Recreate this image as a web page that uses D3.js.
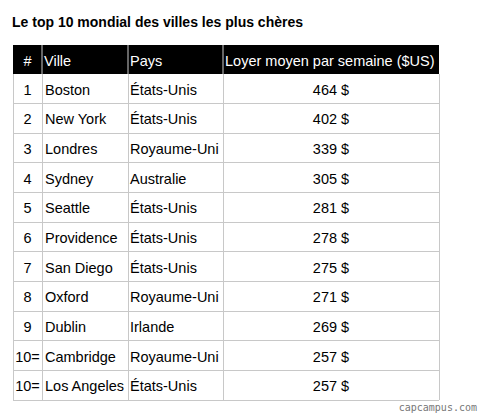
<!DOCTYPE html>
<html><head><meta charset="utf-8">
<script src="https://cdn.jsdelivr.net/npm/d3@7"></script>
<style>body{margin:0;background:#fff;}</style>
</head><body>
<script>
const headers = ['#', 'Ville', 'Pays', 'Loyer moyen par semaine ($US)'];
const ranks = ['1', '2', '3', '4', '5', '6', '7', '8', '9', '10=', '10='];
const cities = ['Boston', 'New York', 'Londres', 'Sydney', 'Seattle', 'Providence', 'San Diego', 'Oxford', 'Dublin', 'Cambridge', 'Los Angeles'];
const countries = ['États-Unis', 'États-Unis', 'Royaume-Uni', 'Australie', 'États-Unis', 'États-Unis', 'États-Unis', 'Royaume-Uni', 'Irlande', 'Royaume-Uni', 'États-Unis'];
const rents = [464, 402, 339, 305, 281, 278, 275, 271, 269, 257, 257];

const W = 487, H = 419;
const font = 'Liberation Sans, Arial, sans-serif';
const svg = d3.select('body').append('svg').attr('width', W).attr('height', H);

svg.append('text').attr('x', 12).attr('y', 27).attr('font-family', font)
    .attr('font-weight', 'bold').attr('font-size', 14).text('Le top 10 mondial des villes les plus chères');

const colEdges = [13, 42, 128, 223, 439];
const tableTop = 45, headH = 29, tableBottom = 400;
const y = d3.scaleBand().domain(d3.range(ranks.length)).range([tableTop + headH, tableBottom]);

// header
svg.append('rect').attr('x', colEdges[0]).attr('y', tableTop).attr('width', colEdges[4] - colEdges[0])
    .attr('height', headH).attr('fill', '#000');
headers.forEach(function (h, i) {
    svg.append('text').attr('x', i === 0 ? (colEdges[0] + colEdges[1]) / 2 : colEdges[i] + 2)
        .attr('y', tableTop + headH / 2 + 6).attr('text-anchor', i === 0 ? 'middle' : 'start')
        .attr('font-family', font).attr('font-size', 14.5).attr('fill', '#fff').text(h);
});
colEdges.slice(1, 4).forEach(function (x) {
    svg.append('line').attr('x1', x).attr('x2', x).attr('y1', tableTop).attr('y2', tableTop + headH)
        .attr('stroke', '#ccc').attr('stroke-width', 1);
});

// grid
const grid = svg.append('g').attr('stroke', '#c8c8c8').attr('stroke-width', 1).attr('shape-rendering', 'crispEdges');
ranks.forEach(function (r, i) {
    grid.append('line').attr('x1', colEdges[0]).attr('x2', colEdges[4])
        .attr('y1', y(i) + y.bandwidth()).attr('y2', y(i) + y.bandwidth());
});
colEdges.forEach(function (x) {
    grid.append('line').attr('x1', x).attr('x2', x).attr('y1', tableTop + headH).attr('y2', tableBottom);
});

const rows = svg.selectAll('.row').data(ranks).enter().append('g').attr('class', 'row')
    .attr('font-family', font).attr('font-size', 14.5).attr('fill', '#000');
const ty = function (d, i) { return y(i) + y.bandwidth() / 2 + 6; };
rows.append('text').attr('x', (colEdges[0] + colEdges[1]) / 2).attr('text-anchor', 'middle')
    .attr('y', ty).text(function (d) { return d; });
rows.append('text').attr('x', colEdges[1] + 3)
    .attr('y', ty).text(function (d, i) { return cities[i]; });
rows.append('text').attr('x', colEdges[2] + 2)
    .attr('y', ty).text(function (d, i) { return countries[i]; });
rows.append('text').attr('x', (colEdges[3] + colEdges[4]) / 2).attr('text-anchor', 'middle')
    .attr('y', ty).text(function (d, i) { return rents[i] + ' $'; });

svg.append('text').attr('x', 477).attr('y', 411).attr('text-anchor', 'end')
    .attr('font-family', 'DejaVu Sans Mono, monospace').attr('font-size', 10).attr('fill', '#777').text('capcampus.com');
</script>
</body></html>
